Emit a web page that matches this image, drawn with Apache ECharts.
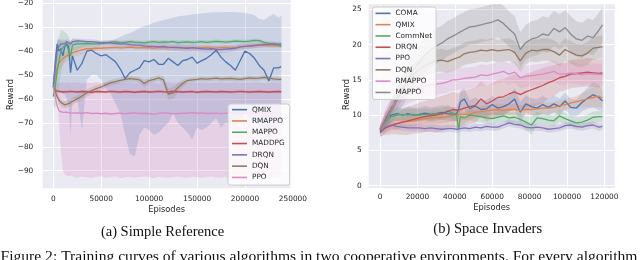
<!DOCTYPE html>
<html><head><meta charset="utf-8">
<script src="https://cdn.jsdelivr.net/npm/echarts@6/dist/echarts.min.js"></script>
<style>html,body{margin:0;padding:0;background:#fff}#c{width:640px;height:260px}</style>
</head><body><div id="c"></div><script>
// ---------- Left chart: Simple Reference ----------
const epsA = [0,2000,4000,6000,8000,10000,12000,14000,16000,18000,20000,25000,30000,35000,40000,45000,50000,55000,60000,65000,70000,75000,80000,85000,90000,95000,100000,105000,110000,115000,120000,125000,130000,135000,140000,145000,150000,155000,160000,165000,170000,175000,180000,185000,190000,195000,200000,205000,210000,215000,220000,225000,230000,235000,238000];
const xTicksA = [0,50000,100000,150000,200000,250000];
const yTicksA = [-90,-80,-70,-60,-50,-40,-30,-20];
const namesA = ['QMIX','RMAPPO','MAPPO','MADDPG','DRQN','DQN','PPO'];
const qmixA = [-54,-45,-37,-40,-39,-42,-38,-37,-38,-49,-42,-48,-45,-40,-39.6,-41,-42,-41.5,-43,-44.5,-47.5,-51.5,-49,-48,-47,-44,-44.5,-43.5,-45.5,-45.5,-43,-44.5,-46,-44,-43.5,-42.5,-45,-44,-43,-41.5,-39.6,-42.5,-44.5,-46,-48,-44,-40,-41,-43,-46,-48,-52.5,-47,-47,-46.5];
const rmappoA = [-55,-50,-47,-45,-44,-43,-42.5,-42,-41.5,-41,-40.5,-40,-39.5,-39,-39,-38.8,-38.8,-38.6,-38.5,-38.4,-38.6,-38.5,-38.3,-38.5,-38.6,-38.4,-38.5,-38.7,-38.4,-38.5,-38.6,-38.3,-38.5,-38.7,-38.5,-38.6,-38.8,-38.5,-38.4,-38.6,-38.7,-38.5,-38.4,-38.6,-38.5,-38.2,-38,-37.9,-37.8,-37.6,-37.5,-37.7,-37.8,-37.6,-37.5];
const mappoA = [-59,-55,-48,-44,-40,-38.5,-38,-37.5,-38,-42,-37.5,-37,-37,-36.8,-37,-37,-36.8,-36.5,-36.2,-36,-36.5,-36.3,-36,-36.2,-36.3,-36.5,-36.2,-36,-36.3,-36.1,-36.2,-36,-36.4,-36.2,-36.1,-36.3,-36.2,-36,-36.3,-36.1,-35.9,-36,-36.2,-36,-35.8,-35.9,-36,-35.8,-35.5,-35.6,-36.3,-36.8,-37,-37.6,-38];
const maddpgA = [-55,-56.5,-57,-56.8,-57,-57.1,-56.9,-57,-57.2,-56.8,-57,-57.1,-56.9,-57,-57.2,-56.9,-57,-57.1,-56.8,-57,-57.1,-56.9,-57,-57.2,-57,-56.9,-57.1,-57,-56.8,-57,-57.1,-56.9,-57,-57.1,-57,-56.9,-57.2,-57,-56.9,-57,-57.1,-56.9,-57,-57.1,-57,-56.8,-57,-57.1,-57,-56.9,-57,-57.1,-57,-56.9,-57];
const drqnA = [-55,-47,-40,-38,-37,-36.5,-37,-36,-36.5,-37,-36,-35.7,-35.8,-36,-36,-36.2,-36.5,-36.4,-36.6,-36.8,-37,-37,-37.3,-37.5,-37.5,-37.8,-38,-38,-38.2,-38,-38.3,-38.5,-38.4,-38.6,-38.8,-38.5,-38.7,-39,-39.2,-39,-39.3,-39.4,-39.2,-39,-38.8,-38.2,-38,-37.8,-37.6,-37.4,-37.3,-37.2,-37,-37.1,-37];
const dqnA = [-55,-57,-59,-60.5,-61.5,-62.3,-62.5,-62.3,-62,-61.5,-61,-60,-58.8,-57.5,-56.5,-55.7,-55,-54,-53.2,-52.8,-52.2,-51.8,-51.5,-51.7,-52,-53.5,-52.3,-51.8,-51.2,-52,-58,-57.5,-55.3,-53.5,-52.3,-52,-51.8,-51.5,-51.7,-51.5,-51.3,-51.6,-51.5,-51.4,-51.6,-51.8,-51.5,-51.2,-51.4,-51.3,-51,-51.3,-51.6,-51.8,-51.8];
const ppoA = [-55,-59,-63,-65,-65.5,-65.6,-65.8,-65.5,-65.7,-65.9,-65.6,-65.8,-66,-65.7,-66.1,-65.9,-66.2,-66,-66.3,-66.1,-65.9,-66.2,-66,-65.8,-66.1,-66,-66.2,-66.4,-66,-65.8,-66,-66.2,-66.1,-65.9,-66,-65.7,-66,-65.8,-66.1,-66,-65.9,-66.1,-66,-65.8,-66,-66.1,-65.9,-66,-65.7,-65.9,-66,-66.2,-66,-65.9,-66];
// band edges
const qmixLoA = [-56,-56,-57,-58,-57,-58,-58,-60,-62,-75,-60,-60,-73,-52,-50,-50,-52,-56,-58,-62,-66,-75,-83,-84,-75,-72,-73,-75,-74,-72,-70,-66,-70,-72,-74,-77,-72,-73,-72,-70,-68,-72,-70,-70,-72,-68,-66,-68,-70,-72,-74,-78,-72,-72,-72];
const qmixHiA = [-53,-40,-35,-35,-36,-36,-35.5,-35.5,-36,-36,-36,-36,-36,-36,-36,-36,-36,-36,-35.5,-35,-34,-33,-32.5,-31.5,-30.5,-29.5,-29,-28,-27.5,-27,-26.5,-26,-25.5,-25.2,-25,-24.7,-24.5,-24.2,-24,-23.8,-23.7,-23.7,-23.6,-23.6,-23.7,-23.8,-24,-24.5,-25,-26.5,-27,-25.5,-24.5,-26,-25];
const ppoLoA = [-55,-57,-58,-70,-82,-90,-91.5,-92,-92.5,-92,-92.5,-93,-92.5,-92.8,-93,-92.6,-92.4,-93,-92.7,-92.5,-93.2,-92.8,-92.6,-93,-92.7,-92.5,-92.8,-93.1,-92.6,-92.8,-93,-92.7,-92.5,-92.9,-93,-92.6,-92.8,-93,-92.7,-92.5,-92.8,-93,-92.6,-92.8,-93,-92.7,-92.5,-92.8,-93,-92.6,-92.8,-93,-92.7,-92.8,-92.6];
const ppoHiA = [-55,-54,-53.5,-53,-53.2,-53,-53.4,-53.1,-53,-53.3,-53.2,-53,-53.4,-53.1,-53.3,-53,-53.2,-53.4,-53.1,-53,-53.3,-53.2,-53,-53.4,-53.1,-53.3,-53,-53.2,-53.4,-53.1,-53,-53.3,-53.2,-53,-53.4,-53.1,-53.3,-53,-53.2,-53.4,-53.1,-53,-53.3,-53.2,-53,-53.4,-53.1,-53.3,-53,-53.2,-53.4,-53.1,-53,-53.3,-53.2];
const rmappoSpreadA = [1,4,4,3.5,3,3,2.5,2.5,2.5,2.2,2,2,1.8,1.5,1.2,1,1,0.9,0.9,0.8,0.8,0.8,0.8,0.8,0.8,0.9,0.9,0.9,1,1,1,1,1,1,1,1,1,1,1,1,1,1,1,1,1,1,1,1,1,1,1,1,1,1,1];
const mappoSpreadA = [4,9,11,10,9,7,6,5,4,6,3,2,1.5,1.2,1,1,0.9,0.8,0.8,0.8,0.8,0.8,0.8,0.8,0.8,0.8,0.8,0.8,0.8,0.8,0.8,0.8,0.8,0.8,0.8,0.8,0.8,0.8,0.8,0.8,0.8,0.8,0.8,0.8,0.8,0.8,0.8,0.8,0.8,0.8,0.8,0.8,0.8,0.8,0.8];
const maddpgSpreadA = [1,1,0.6,0.5,0.5,0.5,0.5,0.5,0.5,0.5,0.5,0.5,0.5,0.5,0.5,0.5,0.5,0.5,0.5,0.5,0.5,0.5,0.5,0.5,0.5,0.5,0.5,0.5,0.5,0.5,0.5,0.5,0.5,0.5,0.5,0.5,0.5,0.5,0.5,0.5,0.5,0.5,0.5,0.5,0.5,0.5,0.5,0.5,0.5,0.5,0.5,0.5,0.5,0.5,0.5];
const drqnSpreadA = [2,6,4,3,2,1.5,1.5,1.2,1.2,1.2,1,1,1,1,1,1,1,1,1,1,1.2,1.2,1.2,1.3,1.3,1.3,1.3,1.3,1.4,1.4,1.4,1.4,1.5,1.5,1.5,1.5,1.5,1.5,1.5,1.5,1.5,1.5,1.5,1.4,1.4,1.3,1.2,1.2,1.1,1.1,1,1,1,1,1];
const dqnSpreadA = [1,1.5,1.5,1.5,1.5,1.5,1.5,1.5,1.5,1.5,1.5,1.5,1.5,1.5,1.5,1.5,1.5,1.2,1.2,1.2,1.2,1.2,1.2,1.2,1.2,1.5,1.2,1.2,1.2,1.5,2.5,2.5,2,1.5,1,1,1,1,1,1,1,1,1,1,1,1,1,1,1,1,1,1,1,1,1];

// ---------- Right chart: Space Invaders ----------
const epsB = [0,3000,6000,9000,12000,15000,18000,21000,24000,27000,30000,33000,36000,39000,41000,42000,43000,45000,48000,51000,54000,57000,60000,63000,66000,69000,72000,75000,78000,81000,84000,87000,90000,93000,96000,99000,102000,105000,108000,111000,114000,117000,119000];
const xTicksB = [0,20000,40000,60000,80000,100000,120000];
const yTicksB = [0,5,10,15,20,25];
const namesB = ['COMA','QMIX','CommNet','DRQN','PPO','DQN','RMAPPO','MAPPO'];
const comaB = [7.8,9.5,10,10.2,10,10.2,10,10.1,10.3,10.1,10.2,10.4,10.2,10.1,10.2,10.8,11.9,12.3,10.9,11.3,10.8,10.9,11.5,11,11.2,11.6,12.3,10.4,11.6,11.2,11,11.5,11.1,11.6,11.2,12,11.1,11,11.8,12.4,12.9,12.5,12];
const qmixB = [8,8.3,8.6,8.8,9,9.1,9.2,9.4,9.5,9.6,9.6,9.7,9.8,10,10,10,10.1,10.1,10.1,10.4,10.5,10.6,10.7,10.8,10.7,10.8,10.8,10.6,10.8,10.8,10.9,11,11,11.1,11.3,11.5,11.7,11.9,12.1,12.3,12.5,12.7,12.4];
const commnetB = [8,9,9.8,10,10.1,10,10.1,10,10.1,10,10.2,10.1,10.6,10.3,10,8,9.8,9.6,10,9.9,9.8,9.6,9.5,9.7,9.9,9.6,9.7,9.4,9,8.6,9.6,9.5,9.3,9.2,9.9,9.5,9.2,8.9,9,9.3,9.7,9.8,9.8];
const drqnB = [7.5,8.2,8.5,8.8,9,9.2,9.4,9.6,9.8,9.9,10,10.2,10.5,10.8,10.7,10.6,10.8,11,11.2,11.4,12.3,11.6,12,12.5,12.6,13,13.3,12.9,13.3,13.6,13.9,14.2,14.6,14.9,15.3,15.5,15.8,15.9,16,16.1,16,15.9,16];
const ppoB = [7.6,8.3,8.6,8.4,8.3,8.2,8.2,8.2,8.1,8.2,8.1,8,8.1,8.1,8,8,8.1,8.2,8.1,8.3,8.2,8.4,8.3,8.3,8.6,8.9,8.7,8.6,8.3,8.2,8.3,8.2,8,8.1,8.2,8.5,8.6,8.4,8.3,8.5,8.6,8.3,8.4];
const dqnB = [8,9.5,11,12.5,13.8,14.8,15.8,16.5,17,17.4,17.7,17.8,17.6,17.9,18.1,18.2,18.3,18.7,18.9,19,19.2,19.1,19.3,19.1,19.2,19.3,18.9,17.7,18.8,19.2,19.1,19.3,19.3,19,18.5,19.3,18.9,18.5,18.4,18.8,19.5,19.6,19.7];
const rmappoB = [8.2,10,11.3,12,12.6,13.1,13.5,13.9,14.1,14.3,14.4,14.5,14.7,15,15,15.1,15.1,15.2,15.3,15.4,15.7,15.6,15.8,16,16.2,15.8,16.1,15.3,15.5,15.6,15.7,15.8,16,16.2,15.8,15.8,16,15.9,15.7,15.9,15.8,15.8,15.7];
const mappoB = [8,9,10.5,12,13.5,15,16.5,17.5,18.5,19.2,19.8,20.2,20.8,21.2,21.5,21.7,21.8,22.1,22.5,22.6,22.8,23,23.2,23.5,23,22.2,21.5,19.3,20.3,20.8,21,21.5,21.3,22.3,21.8,22.4,21.5,20.8,20.6,21.2,21,22,22.8];
const commnetLoB = [7.5,8.2,9,9.2,9.3,9.2,9.3,9.2,9.3,9.2,9.4,9.3,9.6,9.4,9,1,8.6,8.8,9.2,9.1,9,8.8,8.7,8.9,9.1,8.8,8.9,8.6,8,7.2,8.8,8.7,8.5,8.4,9.1,8.7,8.4,8.1,8.2,8.5,8.9,9,9];
const commnetHiB = [8.5,9.8,10.6,10.8,10.9,10.8,10.9,10.8,10.9,10.8,11,10.9,11.5,11.1,10.8,10.5,10.6,10.4,10.8,10.7,10.6,10.4,10.3,10.5,10.7,10.4,10.5,10.2,9.8,9.8,10.4,10.3,10.1,10,10.7,10.3,10,9.7,9.8,10.1,10.5,10.6,10.6];
const comaSpreadB = [0.5,1,1,1,1,1,1,1,1,1,1,1,1,1,1,1.2,1.5,1.5,1.2,1.2,1.2,1.2,1.2,1.2,1.2,1.2,1.5,1.5,1.2,1.2,1.2,1.2,1.2,1.2,1.2,1.2,1.2,1.2,1.3,1.5,1.8,1.8,1.5];
const qmixSpreadB = [0.5,0.8,0.8,0.8,0.8,0.8,0.8,0.8,0.8,0.8,0.8,0.8,0.8,0.8,0.8,0.8,0.8,0.8,0.8,0.8,0.8,0.8,0.8,0.8,0.8,0.8,0.8,0.8,0.8,0.8,0.8,0.8,0.8,0.8,0.8,0.8,0.8,0.8,1,1.2,1.4,1.5,1.5];
const drqnSpreadB = [0.5,1,1.2,1.5,1.8,2,2,2.2,2.2,2.3,2.5,2.5,2.5,2.5,2.5,2.5,2.5,2.5,2.5,2.5,2.5,2.5,2.5,2.5,2.5,2.5,2.5,2.5,2.5,2.5,2.5,2.5,2.3,2.2,2,2,2,2,2,2,2,2,2];
const ppoSpreadB = [0.8,0.8,0.5,0.5,0.5,0.5,0.5,0.5,0.5,0.5,0.5,0.5,0.5,0.5,0.5,0.5,0.5,0.5,0.5,0.5,0.5,0.5,0.5,0.5,0.5,0.5,0.5,0.5,0.5,0.5,0.5,0.5,0.5,0.5,0.5,0.5,0.5,0.5,0.5,0.5,0.5,0.5,0.5];
const dqnSpreadB = [0.5,1,1.2,1.6,1.6,1.6,1.6,1.6,1.6,1.6,1.6,1.6,1.6,1.6,1.6,1.6,1.6,1.6,1.6,1.6,1.6,1.6,1.6,1.6,1.6,1.6,1.6,1.6,1.6,1.6,1.6,1.6,1.6,1.6,1.6,1.6,1.6,1.6,1.6,1.6,1.6,1.6,1.6];
const rmappoSpreadB = [0.5,1,1.2,1.3,1.4,1.5,1.5,1.5,1.5,1.5,1.5,1.5,1.5,1.5,1.5,1.5,1.5,1.5,1.5,1.5,1.5,1.5,1.5,1.5,1.5,1.5,1.5,1.5,1.5,1.5,1.5,1.5,1.5,1.5,1.5,1.5,1.5,1.5,1.5,1.5,1.5,1.5,1.5];
const mappoSpreadB = [0.5,1,1.5,2,2.2,2.4,2.5,2.5,2.5,2.5,2.5,2.5,2.5,2.5,2.5,2.5,2.5,2.5,2.5,2.5,2.5,2.5,2.5,2.5,2.5,2.5,2.5,2.5,2.5,2.5,2.5,2.5,2.5,2.5,2.5,2.5,2.5,2.5,2.5,2.5,2.5,2.5,2.5];

// ---------- style ----------
const C = {blue:'#4C72B0', orange:'#DD8452', green:'#55A868', red:'#C44E52', purple:'#8172B3', brown:'#937860', pink:'#DA8BC3', gray:'#8C8C8C'};
const FONT = 'DejaVu Sans';
const TXT = '#262626';
const minus = v => String(v).replace('-', '\u2212');

function sub(a, b) { return a.map((v, i) => v - b[i]); }
function add(a, b) { return a.map((v, i) => v + b[i]); }

function band(name, axis, xs, lo, hi, color, op) {
  return {
    type: 'custom', name: name, xAxisIndex: axis, yAxisIndex: axis, clip: true, silent: true, z: 1,
    data: xs.map((x, i) => [x, lo[i], hi[i]]),
    renderItem: function (params, api) {
      if (params.dataIndex !== 0) return null;
      const pts = [];
      for (let i = 0; i < xs.length; i++) pts.push(api.coord([xs[i], hi[i]]));
      for (let i = xs.length - 1; i >= 0; i--) pts.push(api.coord([xs[i], lo[i]]));
      return {type: 'polygon', shape: {points: pts}, style: {fill: color, opacity: op || 0.2}};
    }
  };
}
function line(name, axis, xs, ys, color) {
  return {
    type: 'line', name: name, xAxisIndex: axis, yAxisIndex: axis, data: xs.map((x, i) => [x, ys[i]]),
    showSymbol: false, symbol: 'none', clip: true, silent: true, z: 3,
    lineStyle: {color: color, width: 1.3}, itemStyle: {color: color}, emphasis: {disabled: true}
  };
}

const hidden = {show: false};
const gridBase = {show: false, borderWidth: 0, containLabel: false, outerBoundsMode: 'none'};
const splitW = {show: true, lineStyle: {color: '#ffffff', width: 1}};
const lblBase = {color: TXT, fontFamily: FONT, fontSize: 7.4};
const txtStyle = (text, font, fill, align) => ({text: text, fill: fill, font: font,
  textAlign: align || 'center', align: align || 'center', textVerticalAlign: 'middle', verticalAlign: 'middle'});

const option = {
  animation: false,
  backgroundColor: '#ffffff',
  grid: [
    Object.assign({}, gridBase, {show: true, backgroundColor: '#EAEAF2', left: 42.7, top: 0, width: 247.8, height: 188.3}),
    Object.assign({}, gridBase, {left: 53.3, top: 0, width: 239.6, height: 188.3}),
    Object.assign({}, gridBase, {left: 42.7, top: 3.3, width: 247.8, height: 167.4}),
    Object.assign({}, gridBase, {show: true, backgroundColor: '#EAEAF2', left: 368.7, top: 4.3, width: 246, height: 184}),
    Object.assign({}, gridBase, {left: 380, top: 4.3, width: 224.4, height: 184}),
    Object.assign({}, gridBase, {left: 368.7, top: 9.3, width: 246, height: 176.4})
  ],
  xAxis: [
    {gridIndex: 0, type: 'value', min: -11065, max: 247600, show: false},
    {gridIndex: 1, type: 'value', min: xTicksA[0], max: xTicksA[xTicksA.length - 1], interval: xTicksA[1] - xTicksA[0],
      axisLine: hidden, axisTick: hidden, splitLine: splitW,
      axisLabel: Object.assign({}, lblBase, {margin: 7, formatter: minus})},
    {gridIndex: 2, type: 'value', min: 0, max: 1, show: false},
    {gridIndex: 3, type: 'value', min: -6043, max: 125508, show: false},
    {gridIndex: 4, type: 'value', min: xTicksB[0], max: xTicksB[xTicksB.length - 1], interval: xTicksB[1] - xTicksB[0],
      axisLine: hidden, axisTick: hidden, splitLine: splitW,
      axisLabel: Object.assign({}, lblBase, {margin: 5, formatter: minus})},
    {gridIndex: 5, type: 'value', min: 0, max: 1, show: false}
  ],
  yAxis: [
    {gridIndex: 0, type: 'value', min: -97.4, max: -18.6, show: false},
    {gridIndex: 1, type: 'value', min: 0, max: 1, show: false},
    {gridIndex: 2, type: 'value', min: yTicksA[0], max: yTicksA[yTicksA.length - 1], interval: yTicksA[1] - yTicksA[0],
      axisLine: hidden, axisTick: hidden, splitLine: splitW,
      axisLabel: Object.assign({}, lblBase, {margin: 9.4, formatter: minus})},
    {gridIndex: 3, type: 'value', min: -0.37, max: 25.71, show: false},
    {gridIndex: 4, type: 'value', min: 0, max: 1, show: false},
    {gridIndex: 5, type: 'value', min: yTicksB[0], max: yTicksB[yTicksB.length - 1], interval: yTicksB[1] - yTicksB[0],
      axisLine: hidden, axisTick: hidden, splitLine: splitW,
      axisLabel: Object.assign({}, lblBase, {margin: 7, formatter: minus})}
  ],
  legend: [
    {orient: 'vertical', left: 228, top: 104, data: namesA, icon: 'rect', itemWidth: 15, itemHeight: 1.6, itemGap: 0,
      padding: [0, 5, 2, 4], backgroundColor: 'rgba(255,255,255,0.8)', borderColor: '#cccccc', borderWidth: 1, borderRadius: 2.5,
      textStyle: {color: TXT, fontFamily: FONT, fontSize: 7.3, lineHeight: 11.3}, selectedMode: false},
    {orient: 'vertical', left: 372.5, top: 7, data: namesB.map(n => n + '_b'), icon: 'rect', itemWidth: 15, itemHeight: 1.6, itemGap: 0,
      padding: [0.7, 4, 1.4, 3], backgroundColor: 'rgba(255,255,255,0.8)', borderColor: '#cccccc', borderWidth: 1, borderRadius: 2.5,
      formatter: n => n.replace(/_b$/, ''),
      textStyle: {color: TXT, fontFamily: FONT, fontSize: 7.3, lineHeight: 11.3}, selectedMode: false}
  ],
  graphic: {elements: [
    {type: 'text', x: 10.5, y: 94.5, rotation: Math.PI / 2, silent: true, style: txtStyle('Reward', '8.3px "DejaVu Sans"', TXT)},
    {type: 'text', x: 346.7, y: 94.5, rotation: Math.PI / 2, silent: true, style: txtStyle('Reward', '8.3px "DejaVu Sans"', TXT)},
    {type: 'text', x: 166.6, y: 210, silent: true, style: txtStyle('Episodes', '8.3px "DejaVu Sans"', TXT)},
    {type: 'text', x: 491.7, y: 208, silent: true, style: txtStyle('Episodes', '8.3px "DejaVu Sans"', TXT)},
    {type: 'text', x: 162.5, y: 232.5, silent: true, style: txtStyle('(a) Simple Reference', '14.5px "Liberation Serif"', '#111')},
    {type: 'text', x: 487.7, y: 229.5, silent: true, style: txtStyle('(b) Space Invaders', '14.5px "Liberation Serif"', '#111')},
    {type: 'text', x: 0.5, y: 256.5, silent: true,
      style: txtStyle('Figure 2: Training curves of various algorithms in two cooperative environments. For every algorithm', '15.6px "Liberation Serif"', '#111', 'left')}
  ]},
  series: [
    // left bands
    band('b_ppoA', 0, epsA, ppoLoA, ppoHiA, C.pink, 0.27),
    band('b_qmixA', 0, epsA, qmixLoA, qmixHiA, C.blue, 0.2),
    band('b_rmappoA', 0, epsA, sub(rmappoA, rmappoSpreadA), add(rmappoA, rmappoSpreadA), C.orange, 0.2),
    band('b_mappoA', 0, epsA, sub(mappoA, mappoSpreadA), add(mappoA, mappoSpreadA), C.green, 0.2),
    band('b_maddpgA', 0, epsA, sub(maddpgA, maddpgSpreadA), add(maddpgA, maddpgSpreadA), C.red, 0.2),
    band('b_drqnA', 0, epsA, sub(drqnA, drqnSpreadA), add(drqnA, drqnSpreadA), C.purple, 0.2),
    band('b_dqnA', 0, epsA, sub(dqnA, dqnSpreadA), add(dqnA, dqnSpreadA), C.brown, 0.2),
    // left lines
    line('QMIX', 0, epsA, qmixA, C.blue),
    line('RMAPPO', 0, epsA, rmappoA, C.orange),
    line('MAPPO', 0, epsA, mappoA, C.green),
    line('MADDPG', 0, epsA, maddpgA, C.red),
    line('DRQN', 0, epsA, drqnA, C.purple),
    line('DQN', 0, epsA, dqnA, C.brown),
    line('PPO', 0, epsA, ppoA, C.pink),
    // right bands
    band('b_comaB', 3, epsB, sub(comaB, comaSpreadB), add(comaB, comaSpreadB), C.blue, 0.2),
    band('b_qmixB', 3, epsB, sub(qmixB, qmixSpreadB), add(qmixB, qmixSpreadB), C.orange, 0.2),
    band('b_commnetB', 3, epsB, commnetLoB, commnetHiB, C.green, 0.2),
    band('b_drqnB', 3, epsB, sub(drqnB, drqnSpreadB), add(drqnB, drqnSpreadB), C.red, 0.2),
    band('b_ppoB', 3, epsB, sub(ppoB, ppoSpreadB), add(ppoB, ppoSpreadB), C.purple, 0.2),
    band('b_dqnB', 3, epsB, sub(dqnB, dqnSpreadB), add(dqnB, dqnSpreadB), C.brown, 0.22),
    band('b_rmappoB', 3, epsB, sub(rmappoB, rmappoSpreadB), add(rmappoB, rmappoSpreadB), C.pink, 0.22),
    band('b_mappoB', 3, epsB, sub(mappoB, mappoSpreadB), add(mappoB, mappoSpreadB), C.gray, 0.25),
    // right lines
    line('COMA_b', 3, epsB, comaB, C.blue),
    line('QMIX_b', 3, epsB, qmixB, C.orange),
    line('CommNet_b', 3, epsB, commnetB, C.green),
    line('DRQN_b', 3, epsB, drqnB, C.red),
    line('PPO_b', 3, epsB, ppoB, C.purple),
    line('DQN_b', 3, epsB, dqnB, C.brown),
    line('RMAPPO_b', 3, epsB, rmappoB, C.pink),
    line('MAPPO_b', 3, epsB, mappoB, C.gray)
  ]
};
const chart = echarts.init(document.getElementById('c'), null, {renderer: 'canvas'});
chart.setOption(option);
</script></body></html>
